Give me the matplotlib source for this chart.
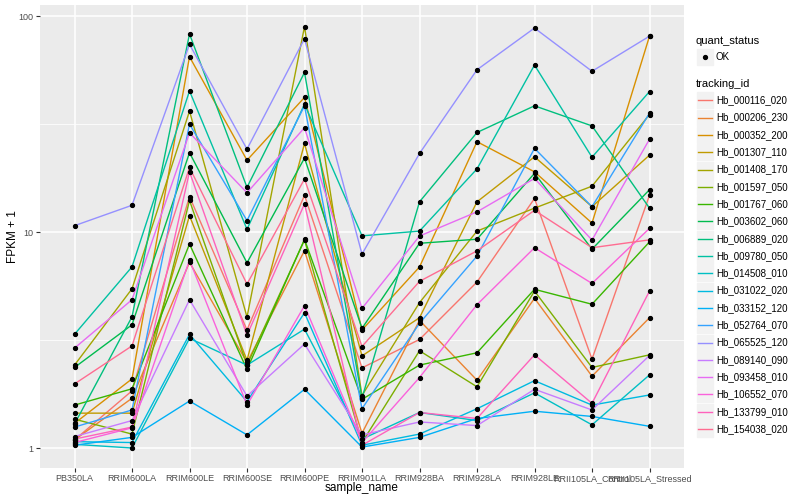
import matplotlib
matplotlib.use("Agg")
import matplotlib.pyplot as plt
from matplotlib.lines import Line2D
from matplotlib.patches import Rectangle
import numpy as np

plt.rcParams['font.family'] = ['Liberation Sans', 'DejaVu Sans']

samples = ['PB350LA', 'RRIM600LA', 'RRIM600LE', 'RRIM600SE', 'RRIM600PE', 'RRIM901LA',
           'RRIM928BA', 'RRIM928LA', 'RRIM928LE', 'RRII105LA_Control', 'RRII105LA_Stressed']

ids = ['Hb_000116_020', 'Hb_000206_230', 'Hb_000352_200', 'Hb_001307_110', 'Hb_001408_170',
       'Hb_001597_050', 'Hb_001767_060', 'Hb_003602_060', 'Hb_006889_020', 'Hb_009780_050',
       'Hb_014508_010', 'Hb_031022_020', 'Hb_033152_120', 'Hb_052764_070', 'Hb_065525_120',
       'Hb_089140_090', 'Hb_093458_010', 'Hb_106552_070', 'Hb_133799_010', 'Hb_154038_020']

colors = ['#F8766D', '#EA8331', '#D89000', '#C09B00', '#A3A500', '#7CAE00', '#39B600',
          '#00BB4E', '#00BF7D', '#00C1A3', '#00BFC4', '#00BAE0', '#00B0F6', '#35A2FF',
          '#9590FF', '#C77CFF', '#E76BF3', '#FA62DB', '#FF62BC', '#FF6C91']

# FPKM + 1, one row per tracking_id
fpkm = [
    [1.09, 1.84, 14.6, 3.52, 14.8, 2.35, 3.18, 5.87, 14.3, 2.58, 14.8],
    [1.09, 1.70, 7.24, 2.49, 8.2, 1.17, 3.90, 2.06, 4.93, 2.15, 4.01],
    [1.30, 2.09, 64.8, 21.5, 42.0, 3.52, 6.89, 26.2, 19.0, 11.0, 80.7],
    [1.45, 1.45, 11.9, 2.55, 25.7, 2.67, 4.01, 13.8, 22.3, 13.1, 22.7],
    [2.42, 5.46, 36.3, 4.04, 89.3, 1.75, 4.71, 10.1, 12.9, 16.3, 35.0],
    [1.36, 1.16, 14.0, 2.42, 9.18, 1.06, 2.82, 1.92, 5.33, 2.36, 2.70],
    [1.58, 1.88, 8.8, 2.31, 9.25, 1.68, 2.42, 2.76, 5.43, 4.63, 9.0],
    [2.36, 3.72, 23.3, 7.2, 22.0, 3.58, 8.87, 9.26, 18.7, 8.33, 15.7],
    [1.29, 4.05, 82.6, 16.1, 54.8, 1.70, 13.8, 28.9, 38.4, 31.0, 12.9],
    [3.36, 6.9, 45.0, 10.3, 39.1, 9.6, 10.1, 19.6, 59.3, 22.2, 44.7],
    [1.04, 1.00, 3.22, 2.42, 3.55, 1.10, 1.46, 1.34, 1.80, 1.28, 2.18],
    [1.07, 1.06, 3.36, 1.64, 4.23, 1.03, 1.16, 1.52, 2.05, 1.58, 1.76],
    [1.03, 1.12, 1.65, 1.15, 1.87, 1.01, 1.12, 1.37, 1.48, 1.40, 1.26],
    [1.25, 1.50, 31.6, 11.3, 38.4, 1.52, 3.78, 7.74, 24.4, 13.1, 35.5],
    [10.7, 13.3, 74.0, 24.2, 78.5, 7.9, 23.1, 56.4, 88.0, 55.5, 80.7],
    [1.13, 1.34, 4.86, 1.74, 3.03, 1.15, 1.32, 1.27, 1.87, 1.50, 2.68],
    [2.90, 4.86, 28.8, 15.2, 30.4, 4.43, 9.58, 12.4, 17.7, 9.18, 26.9],
    [1.06, 1.24, 7.42, 1.58, 4.56, 1.06, 2.12, 4.61, 8.46, 5.78, 10.4],
    [1.10, 1.25, 19.0, 3.33, 13.5, 1.03, 1.46, 1.37, 2.70, 1.61, 5.33],
    [1.98, 2.97, 19.9, 5.74, 17.6, 2.95, 5.91, 8.18, 12.6, 8.46, 9.2],
]

fig = plt.figure(figsize=(8, 5), dpi=100)
ax = fig.add_axes([40/800, 1-468/500, 644/800, 463/500])
ax.set_facecolor('#EBEBEB')
x = np.arange(len(samples))

for vals, c in zip(fpkm, colors):
    ax.plot(x, vals, color=c, lw=1.0, zorder=2)
for vals in fpkm:
    ax.plot(x, vals, 'o', color='black', ms=2.8, zorder=3)

ax.set_yscale('log')
ax.set_ylim(0.808, 112.5)
ax.set_xlim(-0.6, 10.6)
ax.set_yticks([1, 10, 100])
ax.set_yticklabels(['1', '10', '100'])
ax.yaxis.set_minor_locator(matplotlib.ticker.FixedLocator([10**0.5, 10**1.5]))
ax.yaxis.set_minor_formatter(matplotlib.ticker.NullFormatter())
ax.set_xticks(x)
ax.set_xticklabels(samples)
ax.grid(True, which='major', color='white', lw=1.1, zorder=0)
ax.grid(True, which='minor', axis='y', color='white', lw=0.55, zorder=0)
ax.set_axisbelow(True)
for s in ax.spines.values():
    s.set_visible(False)
ax.tick_params(axis='both', which='major', length=3, color='#333333', labelcolor='#4D4D4D',
               labelsize=6.5, pad=1.5)
ax.tick_params(axis='y', which='minor', length=0)
fig.text(362/800, 1-488/500, 'sample_name', fontsize=8.5, ha='center', va='center')
fig.text(13/800, 1-237/500, 'FPKM + 1', fontsize=8.5, rotation=90, ha='center', va='center')

# legend drawn by hand, in pixel coordinates of the figure
def px(xp, yp):
    return xp/800, 1-yp/500

tf = fig.transFigure
fig.text(*px(696, 41), 'quant_status', fontsize=8, va='center', ha='left')
fig.add_artist(Rectangle(px(697, 65), 16/800, 16/500, transform=tf, color='#F2F2F2'))
fig.add_artist(Line2D([705/800], [1-57/500], marker='o', ms=2.8, color='black', transform=tf))
fig.text(*px(716, 57), 'OK', fontsize=7, va='center', ha='left')

fig.text(*px(696, 84), 'tracking_id', fontsize=8, va='center', ha='left')
for i, (name, c) in enumerate(zip(ids, colors)):
    yc = 100.3 + i*17.3
    fig.add_artist(Rectangle(px(697, yc+8), 16/800, 16/500, transform=tf, color='#F2F2F2'))
    fig.add_artist(Line2D([698/800, 712/800], [1-yc/500]*2, color=c, lw=1.0, transform=tf))
    fig.text(*px(716, yc), name, fontsize=7, va='center', ha='left')

fig.savefig('out.png', dpi=100)
